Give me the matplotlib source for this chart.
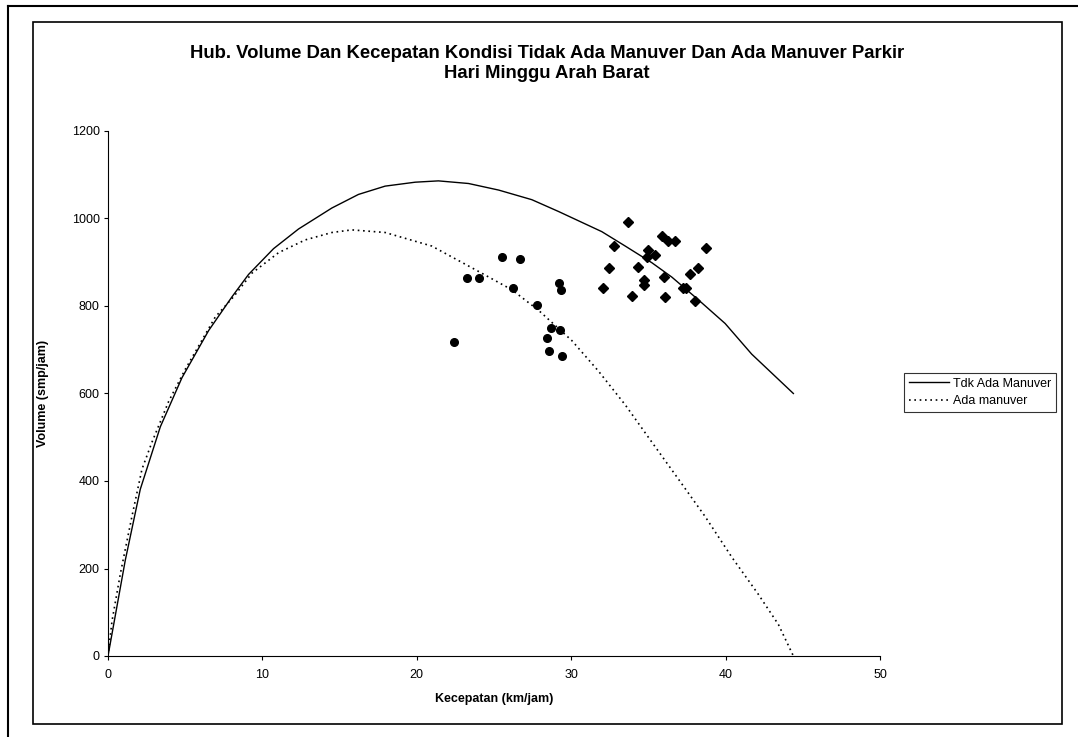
import matplotlib
matplotlib.use("Agg")
import matplotlib.pyplot as plt
from matplotlib.lines import Line2D
from matplotlib.patches import Rectangle

plt.rcParams['font.family'] = ['Liberation Sans', 'DejaVu Sans']

# fitted curves
tdk_x = [0, 1.12, 2.09, 3.39, 4.79, 6.52, 8.03, 9.1, 10.72, 12.34, 14.5, 16.22, 17.95,
         19.9, 21.4, 23.35, 25.3, 27.45, 29.18, 31.98, 33.5, 35.22, 36.52, 38.24,
         39.97, 41.69, 44.39]
tdk_y = [0, 219, 381, 524, 636, 744, 821, 872, 931, 976, 1024, 1055, 1074,
         1083, 1086, 1080, 1065, 1043, 1016, 970, 937, 899, 866, 814,
         760, 690, 600]

ada_x = [0, 0.26, 0.8, 1.55, 2.2, 2.85, 3.93, 5.0, 6.95, 8.13, 9.32, 11.05, 12.77,
         14.5, 15.79, 17.95, 20.97, 24.0, 26.16, 27.89, 30.04, 31.77, 33.5, 35.22,
         36.95, 38.67, 40.4, 42.12, 43.42, 44.39]
ada_y = [0, 80, 188, 319, 427, 489, 582, 655, 775, 821, 875, 922, 951,
         968, 974, 968, 937, 879, 837, 790, 721, 651, 574, 489,
         404, 319, 226, 141, 72, 0]

# observed points
obs_ada_x = [22.4, 23.25, 24.0, 25.5, 26.7, 26.25, 27.8, 29.2, 29.33, 28.72, 29.27,
             28.42, 28.58, 29.4]
obs_ada_y = [718, 865, 865, 911, 908, 841, 803, 852, 836, 749, 744, 726, 697, 685]

obs_tdk_x = [33.7, 35.9, 36.3, 36.7, 32.8, 38.75, 35.0, 34.9, 35.45, 32.45, 34.3,
             38.2, 37.7, 36.0, 34.7, 34.7, 32.05, 37.25, 37.45, 33.93, 36.1, 38.05]
obs_tdk_y = [991, 961, 948, 948, 937, 933, 928, 912, 917, 886, 889,
             887, 872, 866, 859, 847, 840, 842, 840, 822, 820, 812]

W, H = 1078, 737
fig = plt.figure(figsize=(W / 100, H / 100), dpi=100)
ax = fig.add_axes([108 / W, 1 - 656 / H, (880 - 108) / W, (656 - 131) / H])

ax.plot(tdk_x, tdk_y, color='black', lw=1.0, label='Tdk Ada Manuver')
ax.plot(ada_x, ada_y, color='black', lw=1.2, linestyle=(0, (1, 2.2)), label='Ada manuver')
ax.plot(obs_ada_x, obs_ada_y, 'o', color='black', ms=5.5, clip_on=False)
ax.plot(obs_tdk_x, obs_tdk_y, 'D', color='black', ms=5, clip_on=False)

ax.set_xlim(0, 50)
ax.set_ylim(0, 1200)
ax.set_xticks(range(0, 51, 10))
ax.set_yticks(range(0, 1201, 200))
for s in ['top', 'right']:
    ax.spines[s].set_visible(False)
for s in ['left', 'bottom']:
    ax.spines[s].set_linewidth(0.8)
ax.tick_params(direction='out', length=3, width=0.8, labelsize=9)
ax.tick_params(axis='x', pad=6)
ax.tick_params(axis='y', pad=3)

ax.set_xlabel('Kecepatan (km/jam)', fontsize=9, fontweight='bold')
ax.set_ylabel('Volume (smp/jam)', fontsize=9, fontweight='bold')
ax.xaxis.set_label_coords(0.5, (656 - 693) / 525)
ax.yaxis.set_label_coords((49 - 108) / 772, 0.5)

fig.text(547 / W, 1 - 54 / H,
         'Hub. Volume Dan Kecepatan Kondisi Tidak Ada Manuver Dan Ada Manuver Parkir',
         ha='center', va='center', fontsize=13.3, fontweight='bold')
fig.text(547 / W, 1 - 74 / H, 'Hari Minggu Arah Barat',
         ha='center', va='center', fontsize=13.3, fontweight='bold')

leg = ax.legend(loc='center left', bbox_to_anchor=(904 / W, 1 - 392.5 / H),
                bbox_transform=fig.transFigure, fontsize=9, frameon=True,
                fancybox=False, edgecolor='black', handlelength=3.2,
                handletextpad=0.3, borderpad=0.4, labelspacing=0.45, borderaxespad=0)
leg.get_frame().set_linewidth(0.8)

# chart area frames
fig.add_artist(Rectangle((33 / W, 1 - 724 / H), (1062 - 33) / W, (724 - 22) / H,
                         transform=fig.transFigure, fill=False, lw=1.2, ec='black'))
fig.add_artist(Line2D([7.5 / W, 1], [1 - 6 / H, 1 - 6 / H], transform=fig.transFigure,
                      color='black', lw=1.5))
fig.add_artist(Line2D([7.5 / W, 7.5 / W], [0, 1 - 6 / H], transform=fig.transFigure,
                      color='black', lw=1.5))

fig.savefig('out.png', dpi=100)
